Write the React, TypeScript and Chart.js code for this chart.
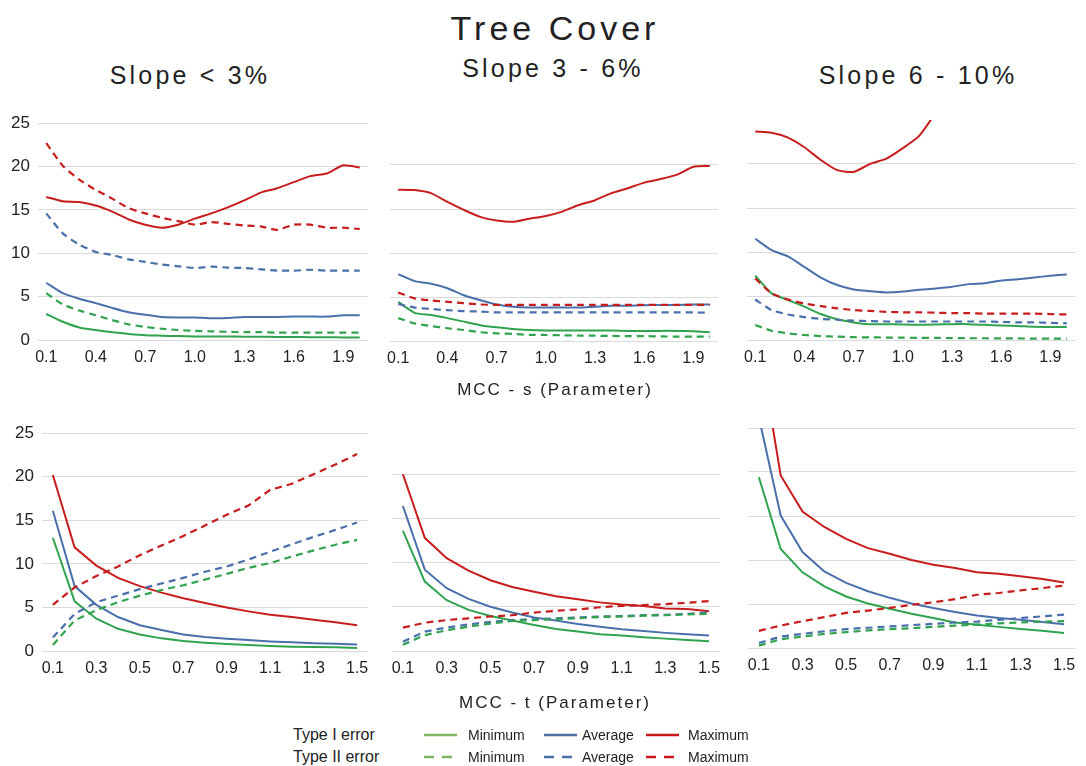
import React, { useEffect, useRef } from 'react';
import { Chart, registerables } from 'chart.js';
Chart.register(...registerables);

// ---------- data ----------
const sLabels = ['0.1','0.2','0.3','0.4','0.5','0.6','0.7','0.8','0.9','1.0','1.1','1.2','1.3','1.4','1.5','1.6','1.7','1.8','1.9','2.0'];
const tLabels = ['0.1','0.2','0.3','0.4','0.5','0.6','0.7','0.8','0.9','1.0','1.1','1.2','1.3','1.4','1.5'];
const yTickValues = [0, 5, 10, 15, 20, 25];

// Slope < 3%, MCC - s
const s1Type1Min = [3.0,2.1,1.45,1.15,0.9,0.7,0.55,0.5,0.45,0.4,0.4,0.4,0.38,0.38,0.36,0.35,0.33,0.32,0.3,0.3];
const s1Type1Avg = [6.6,5.4,4.75,4.25,3.7,3.2,2.9,2.65,2.6,2.6,2.5,2.55,2.65,2.65,2.65,2.7,2.7,2.7,2.85,2.85];
const s1Type1Max = [16.5,16.0,15.9,15.5,14.8,13.9,13.3,12.95,13.3,14.0,14.6,15.3,16.1,17.0,17.5,18.2,18.9,19.2,20.15,19.9];
const s1Type2Min = [5.4,4.1,3.4,2.85,2.3,1.8,1.5,1.3,1.15,1.05,1.0,0.95,0.9,0.9,0.85,0.85,0.85,0.85,0.85,0.85];
const s1Type2Avg = [14.6,12.3,11.0,10.15,9.8,9.3,9.0,8.7,8.5,8.3,8.45,8.35,8.3,8.15,8.0,8.0,8.1,8.0,8.0,8.0];
const s1Type2Max = [22.7,20.1,18.5,17.3,16.3,15.2,14.6,14.1,13.7,13.3,13.6,13.4,13.2,13.1,12.7,13.3,13.3,12.95,12.95,12.8];

// Slope 3 - 6%, MCC - s
const s2Type1Min = [4.45,3.2,2.95,2.6,2.2,1.8,1.55,1.35,1.25,1.2,1.2,1.2,1.2,1.2,1.15,1.15,1.15,1.15,1.1,1.0];
const s2Type1Avg = [7.6,6.8,6.5,6.0,5.2,4.65,4.15,3.9,3.8,3.8,3.8,3.8,3.9,4.0,4.0,4.05,4.1,4.1,4.15,4.15];
const s2Type1Max = [17.2,17.15,16.8,15.8,14.9,14.1,13.7,13.55,13.9,14.2,14.7,15.45,16.0,16.8,17.35,18.0,18.4,18.9,19.8,19.9];
const s2Type2Min = [2.6,2.0,1.7,1.45,1.25,1.0,0.87,0.8,0.7,0.68,0.65,0.62,0.6,0.58,0.55,0.55,0.52,0.5,0.5,0.5];
const s2Type2Avg = [4.2,3.8,3.65,3.5,3.4,3.35,3.25,3.25,3.25,3.25,3.25,3.25,3.25,3.25,3.25,3.25,3.25,3.25,3.25,3.2];
const s2Type2Max = [5.5,4.85,4.6,4.45,4.3,4.15,4.1,4.1,4.1,4.1,4.1,4.1,4.1,4.1,4.1,4.1,4.1,4.1,4.1,4.1];

// Slope 6 - 10%, MCC - s
const s3Type1Min = [7.3,5.3,4.55,3.8,2.95,2.35,2.0,1.8,1.8,1.75,1.72,1.75,1.8,1.8,1.72,1.65,1.6,1.5,1.48,1.48];
const s3Type1Avg = [11.5,10.2,9.5,8.3,7.1,6.25,5.75,5.55,5.4,5.5,5.7,5.85,6.05,6.35,6.45,6.75,6.9,7.1,7.3,7.45];
const s3Type1Max = [23.7,23.55,23.0,21.9,20.45,19.3,19.1,20.0,20.6,21.8,23.2,25.8,null,null,null,null,null,null,null,null];
const s3Type2Min = [1.7,1.05,0.75,0.57,0.45,0.38,0.32,0.3,0.28,0.26,0.25,0.24,0.22,0.2,0.2,0.18,0.18,0.16,0.15,0.15];
const s3Type2Avg = [4.6,3.4,2.9,2.6,2.4,2.3,2.2,2.15,2.1,2.1,2.1,2.1,2.1,2.1,2.1,2.05,2.0,2.0,1.95,1.9];
const s3Type2Max = [7.0,5.3,4.6,4.15,3.85,3.6,3.4,3.3,3.2,3.15,3.15,3.1,3.05,3.05,3.0,3.0,3.0,3.0,2.95,2.9];

// Slope < 3%, MCC - t
const t1Type1Min = [13.0,5.7,3.7,2.55,1.9,1.45,1.15,0.95,0.8,0.68,0.57,0.5,0.45,0.42,0.35];
const t1Type1Avg = [16.1,7.45,5.3,3.9,2.95,2.4,1.9,1.6,1.4,1.25,1.1,1.0,0.9,0.83,0.75];
const t1Type1Max = [20.2,11.9,9.8,8.4,7.45,6.7,6.05,5.5,5.0,4.55,4.15,3.9,3.6,3.3,2.95];
const t1Type2Min = [0.68,3.5,4.7,5.6,6.35,7.0,7.55,8.2,8.85,9.55,10.1,10.85,11.55,12.2,12.75];
const t1Type2Avg = [1.55,4.25,5.6,6.35,7.1,7.75,8.4,9.1,9.7,10.5,11.4,12.25,13.1,13.9,14.75];
const t1Type2Max = [5.3,7.3,8.6,9.7,11.0,12.1,13.2,14.4,15.65,16.7,18.5,19.2,20.3,21.4,22.6];

// Slope 3 - 6%, MCC - t
const t2Type1Min = [13.6,7.85,5.75,4.65,3.95,3.45,2.95,2.5,2.2,1.9,1.75,1.55,1.4,1.25,1.1];
const t2Type1Avg = [16.4,9.2,7.1,5.9,5.0,4.35,3.8,3.45,3.05,2.75,2.45,2.25,2.05,1.9,1.75];
const t2Type1Max = [20.0,12.8,10.5,9.1,8.0,7.25,6.7,6.2,5.85,5.5,5.25,5.1,4.8,4.75,4.5];
const t2Type2Min = [0.7,1.8,2.35,2.75,3.1,3.4,3.5,3.6,3.7,3.85,3.9,4.0,4.05,4.15,4.2];
const t2Type2Avg = [1.05,2.2,2.65,3.0,3.3,3.5,3.6,3.7,3.8,3.9,3.95,4.05,4.1,4.2,4.35];
const t2Type2Max = [2.65,3.2,3.5,3.7,3.9,4.05,4.35,4.55,4.7,4.95,5.1,5.2,5.3,5.45,5.65];

// Slope 6 - 10%, MCC - t
const t3Type1Min = [19.4,11.25,8.6,7.0,5.85,5.05,4.45,3.9,3.4,2.9,2.65,2.4,2.15,1.95,1.7];
const t3Type1Avg = [26.2,15.05,10.9,8.7,7.4,6.45,5.7,5.05,4.55,4.1,3.7,3.4,3.2,2.95,2.7];
const t3Type1Max = [34.6,19.6,15.5,13.75,12.4,11.35,10.7,10.0,9.45,9.1,8.6,8.45,8.15,7.85,7.45];
const t3Type2Min = [0.27,1.0,1.3,1.6,1.8,2.0,2.15,2.25,2.4,2.55,2.65,2.8,2.9,3.0,3.05];
const t3Type2Avg = [0.57,1.3,1.6,1.9,2.15,2.3,2.45,2.6,2.75,2.9,3.0,3.2,3.4,3.6,3.8];
const t3Type2Max = [1.95,2.55,3.05,3.5,4.0,4.25,4.55,4.9,5.2,5.55,6.05,6.25,6.55,6.8,7.1];

// ---------- styles ----------
const FONT = '"Liberation Sans", Arial, sans-serif';
const GREEN = '#2fa34e';
const BLUE = '#4a70ac';
const RED = '#c81d1d';
const LEG_GREEN = '#7cb75f';
const LEG_BLUE = '#4a6fa5';
const LEG_RED = '#c8161d';
const TEXT = '#222222';
const GRID = '#dadada';

type Area = { left: number; top: number; right: number; bottom: number };
type PanelProps = {
  labels: string[];
  every: number;
  area: Area;
  showY: boolean;
  hideTop: boolean;
  tension: number;
  series: (number | null)[][];
};

const PAD_L = 45, PAD_T = 15, PAD_R = 15, PAD_B = 35;

function Panel({ labels, every, area, showY, hideTop, tension, series }: PanelProps) {
  const ref = useRef<HTMLCanvasElement | null>(null);
  useEffect(() => {
    if (!ref.current) return;
    const colors = [GREEN, BLUE, RED, GREEN, BLUE, RED];
    const names = ['Type I Minimum','Type I Average','Type I Maximum','Type II Minimum','Type II Average','Type II Maximum'];
    const order = [3, 4, 5, 0, 1, 2];
    const datasets = order.map((i) => ({
      label: names[i],
      data: series[i],
      borderColor: colors[i],
      backgroundColor: colors[i],
      borderWidth: i < 3 ? 2 : 2.2,
      borderDash: i < 3 ? [] : [7, 5],
      pointRadius: 0,
      pointHoverRadius: 0,
      tension,
      fill: false,
    }));
    const chart = new Chart(ref.current, {
      type: 'line',
      data: { labels, datasets },
      options: {
        animation: false,
        responsive: false,
        maintainAspectRatio: false,
        layout: { padding: { left: 0, top: PAD_T, right: PAD_R, bottom: 0 } },
        plugins: { legend: { display: false }, tooltip: { enabled: false }, title: { display: false } },
        scales: {
          x: {
            type: 'category',
            offset: true,
            grid: { display: false, drawTicks: false },
            border: { display: false },
            ticks: {
              autoSkip: false,
              maxRotation: 0,
              minRotation: 0,
              padding: 8,
              color: TEXT,
              font: { family: FONT, size: 16 },
              callback: (_v: any, idx: number) => (idx % every === 0 ? labels[idx] : ''),
            },
            afterFit: (s: any) => { s.height = PAD_B; },
          },
          y: {
            min: 0,
            max: 25,
            afterBuildTicks: (s: any) => { s.ticks = yTickValues.map((v) => ({ value: v })); },
            grid: {
              drawTicks: false,
              lineWidth: 1,
              color: (ctx: any) => (hideTop && ctx.tick && ctx.tick.value === 25 ? 'rgba(0,0,0,0)' : GRID),
            },
            border: { display: false },
            ticks: {
              display: showY,
              padding: 8,
              color: TEXT,
              font: { family: FONT, size: 17 },
            },
            afterFit: (s: any) => { s.width = PAD_L; },
          },
        },
      },
    });
    return () => chart.destroy();
  }, []);
  const w = area.right - area.left + PAD_L + PAD_R;
  const h = area.bottom - area.top + PAD_T + PAD_B;
  return (
    <canvas
      ref={ref}
      width={w}
      height={h}
      style={{ position: 'absolute', left: area.left - PAD_L, top: area.top - PAD_T, width: w, height: h }}
    />
  );
}

function Text({ x, y, size, spacing, children, align = 'center' }: any) {
  const tx = align === 'center' ? '-50%' : '0';
  return (
    <div
      style={{
        position: 'absolute',
        left: x,
        top: y,
        transform: `translate(${tx}, -50%)`,
        fontFamily: FONT,
        fontSize: size,
        letterSpacing: spacing,
        lineHeight: 1,
        whiteSpace: 'nowrap',
        color: TEXT,
      }}
    >
      {children}
    </div>
  );
}

function LegendLine({ x, y, color, dashed }: any) {
  return (
    <svg style={{ position: 'absolute', left: x, top: y - 3 }} width={34} height={6}>
      <line x1={0} y1={3} x2={33} y2={3} stroke={color} strokeWidth={2.5} strokeDasharray={dashed ? '10 8' : undefined} />
    </svg>
  );
}

export default function App() {
  return (
    <div style={{ position: 'absolute', left: 0, top: 0, width: 1086, height: 766, background: '#ffffff', overflow: 'hidden' }}>
      <Text x={555} y={28} size={34} spacing={4}>Tree Cover</Text>
      <Text x={190} y={75} size={25} spacing={3.2}>Slope &lt; 3%</Text>
      <Text x={553} y={68} size={25} spacing={3.2}>Slope 3 - 6%</Text>
      <Text x={918} y={75} size={25} spacing={3.2}>Slope 6 - 10%</Text>

      <Panel labels={sLabels} every={3} area={{ left: 38, top: 120, right: 368, bottom: 340 }} showY={true} hideTop={false} tension={0.2}
        series={[s1Type1Min, s1Type1Avg, s1Type1Max, s1Type2Min, s1Type2Avg, s1Type2Max]} />
      <Panel labels={sLabels} every={3} area={{ left: 390, top: 121, right: 718, bottom: 341 }} showY={false} hideTop={true} tension={0.2}
        series={[s2Type1Min, s2Type1Avg, s2Type1Max, s2Type2Min, s2Type2Avg, s2Type2Max]} />
      <Panel labels={sLabels} every={3} area={{ left: 747, top: 120, right: 1075, bottom: 340 }} showY={false} hideTop={true} tension={0.2}
        series={[s3Type1Min, s3Type1Avg, s3Type1Max, s3Type2Min, s3Type2Avg, s3Type2Max]} />

      <Text x={555} y={389} size={17} spacing={2}>MCC - s (Parameter)</Text>

      <Panel labels={tLabels} every={2} area={{ left: 42, top: 430, right: 368, bottom: 651 }} showY={true} hideTop={false} tension={0}
        series={[t1Type1Min, t1Type1Avg, t1Type1Max, t1Type2Min, t1Type2Avg, t1Type2Max]} />
      <Panel labels={tLabels} every={2} area={{ left: 392, top: 430, right: 720, bottom: 651 }} showY={false} hideTop={true} tension={0}
        series={[t2Type1Min, t2Type1Avg, t2Type1Max, t2Type2Min, t2Type2Avg, t2Type2Max]} />
      <Panel labels={tLabels} every={2} area={{ left: 748, top: 428, right: 1075, bottom: 648 }} showY={false} hideTop={false} tension={0}
        series={[t3Type1Min, t3Type1Avg, t3Type1Max, t3Type2Min, t3Type2Avg, t3Type2Max]} />

      <Text x={555} y={702} size={17} spacing={2}>MCC - t (Parameter)</Text>

      <Text x={293} y={735} size={16} align="left">Type I error</Text>
      <Text x={293} y={757} size={16} align="left">Type II error</Text>
      <LegendLine x={424} y={735} color={LEG_GREEN} dashed={false} />
      <LegendLine x={424} y={757} color={LEG_GREEN} dashed={true} />
      <Text x={468} y={735} size={14} align="left">Minimum</Text>
      <Text x={468} y={757} size={14} align="left">Minimum</Text>
      <LegendLine x={544} y={735} color={LEG_BLUE} dashed={false} />
      <LegendLine x={544} y={757} color={LEG_BLUE} dashed={true} />
      <Text x={582} y={735} size={14} align="left">Average</Text>
      <Text x={582} y={757} size={14} align="left">Average</Text>
      <LegendLine x={646} y={735} color={LEG_RED} dashed={false} />
      <LegendLine x={646} y={757} color={LEG_RED} dashed={true} />
      <Text x={688} y={735} size={14} align="left">Maximum</Text>
      <Text x={688} y={757} size={14} align="left">Maximum</Text>
    </div>
  );
}
